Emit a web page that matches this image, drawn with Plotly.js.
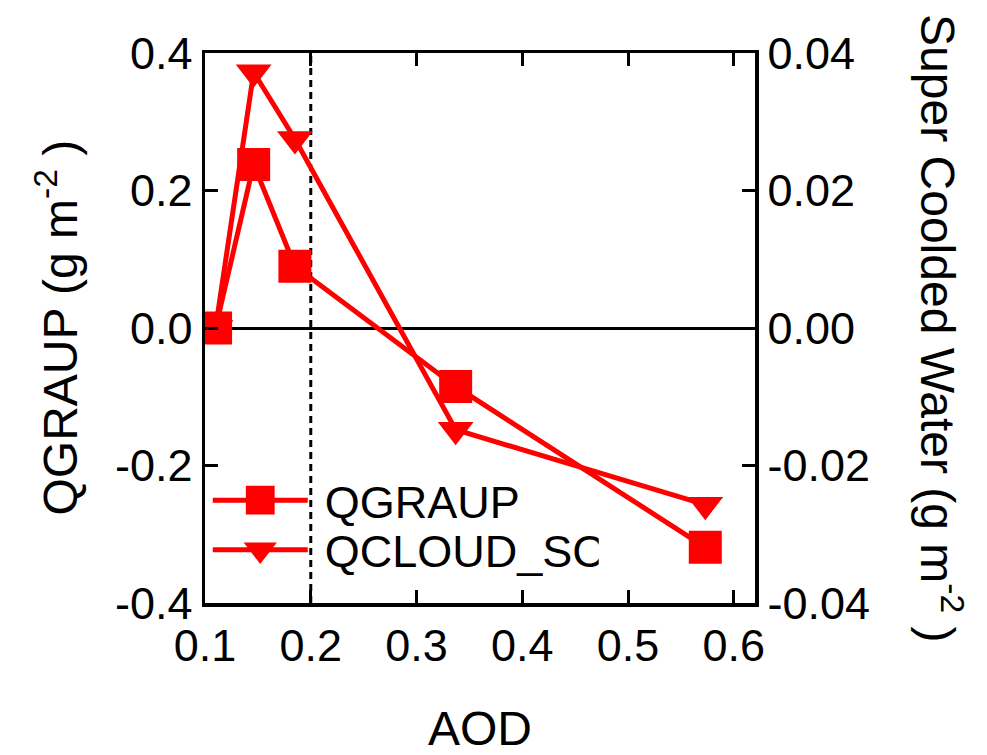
<!DOCTYPE html>
<html>
<head>
<meta charset="utf-8">
<script src="https://cdn.plot.ly/plotly-3.0.1.min.js"></script>
<style>
  html, body { margin: 0; padding: 0; background: #fff; }
  #chart { width: 987px; height: 755px; }
</style>
</head>
<body>
<div id="chart"></div>
<script>
// ---- data ----
const aod = [0.110, 0.146, 0.185, 0.337, 0.573];
const qgraup = [0.000, 0.238, 0.090, -0.085, -0.319];
const qcloudSC = [0.0000, 0.0372, 0.0275, -0.0148, -0.0257];
const seriesNames = ['QGRAUP', 'QCLOUD_SC'];
const xTicks = [0.1, 0.2, 0.3, 0.4, 0.5, 0.6];
const xTickText = ['0.1', '0.2', '0.3', '0.4', '0.5', '0.6'];
const yLeftTicks = [-0.4, -0.2, 0.0, 0.2, 0.4];
const yLeftTickText = ['-0.4', '-0.2', '0.0', '0.2', '0.4'];
const yRightTicks = [-0.04, -0.02, 0.00, 0.02, 0.04];
const yRightTickText = ['-0.04', '-0.02', '0.00', '0.02', '0.04'];
const aodThreshold = 0.2;
const xTitle = 'AOD';
const yLeftTitle = 'QGRAUP (g m<sup>-2</sup> )';
const yRightTitle = 'Super Coolded Water (g m<sup>-2</sup> )';

const FONT = '"Liberation Sans", Arial, sans-serif';
const RED = '#ff0000';

const traces = [
  {
    x: aod, y: qgraup, name: seriesNames[0], type: 'scatter', mode: 'lines+markers',
    line: {color: RED, width: 5},
    marker: {symbol: 'square', size: 33, color: RED},
    xaxis: 'x', yaxis: 'y'
  },
  {
    x: aod, y: qcloudSC, name: seriesNames[1], type: 'scatter', mode: 'lines+markers',
    line: {color: RED, width: 5},
    marker: {symbol: 'triangle-down', size: 31, color: RED},
    xaxis: 'x', yaxis: 'y2'
  }
];

const tickFont = {family: FONT, size: 45, color: '#000'};
const titleFont = {family: FONT, size: 48, color: '#000'};

const layout = {
  width: 987, height: 755,
  margin: {l: 205, r: 232, t: 53, b: 152},
  paper_bgcolor: '#fff', plot_bgcolor: '#fff',
  font: {family: FONT, color: '#000'},
  showlegend: true,
  legend: {
    x: 0.005, y: 0.252, xanchor: 'left', yanchor: 'top',
    bgcolor: 'rgba(0,0,0,0)',
    font: {family: FONT, size: 45, color: '#000'},
    itemwidth: 95,
    tracegroupgap: 0
  },
  xaxis: {
    range: [0.1, 0.62],
    tickvals: xTicks, ticktext: xTickText,
    ticks: 'inside', ticklen: 13, tickwidth: 3, tickcolor: '#000',
    showline: true, linecolor: '#000', linewidth: 3.5, mirror: 'ticks',
    showgrid: false, zeroline: false,
    tickfont: tickFont,
    title: {text: xTitle, font: titleFont, standoff: 46}
  },
  yaxis: {
    range: [-0.4, 0.4],
    tickvals: yLeftTicks, ticktext: yLeftTickText,
    ticks: 'inside', ticklen: 13, tickwidth: 3, tickcolor: '#000',
    showline: true, linecolor: '#000', linewidth: 3.5,
    showgrid: false,
    zeroline: true, zerolinecolor: '#000', zerolinewidth: 3,
    tickfont: tickFont
  },
  yaxis2: {
    range: [-0.04, 0.04],
    overlaying: 'y', side: 'right',
    tickvals: yRightTicks, ticktext: yRightTickText,
    ticks: 'inside', ticklen: 13, tickwidth: 3, tickcolor: '#000',
    showline: true, linecolor: '#000', linewidth: 3.5,
    showgrid: false, zeroline: false,
    tickfont: tickFont
  },
  shapes: [
    {type: 'line', xref: 'x', yref: 'paper', x0: aodThreshold, x1: aodThreshold, y0: 0, y1: 1,
     line: {color: '#000', width: 3, dash: '7px,5px'}, layer: 'below'}
  ],
  annotations: [
    {text: yLeftTitle, xref: 'paper', yref: 'paper', x: -0.27, y: 0.5,
     xanchor: 'center', yanchor: 'middle', textangle: -90, showarrow: false,
     font: titleFont},
    {text: yRightTitle, xref: 'paper', yref: 'paper', x: 1.338, y: 0.5,
     xanchor: 'center', yanchor: 'middle', textangle: 90, showarrow: false,
     font: titleFont}
  ]
};

Plotly.newPlot('chart', traces, layout, {displayModeBar: false, staticPlot: true}).then(function (gd) {
  // enlarge legend symbols and tune legend spacing to match the reference
  gd.querySelectorAll('.legend .legendpoints path.scatterpts').forEach(function (p) {
    const t = p.getAttribute('transform') || '';
    p.setAttribute('transform', t + ' scale(1.8)');
  });
  gd.querySelectorAll('.legend .legendtext').forEach(function (t) {
    const x = parseFloat(t.getAttribute('x') || '0');
    t.setAttribute('x', x + 12);
  });
  const items = gd.querySelectorAll('.legend .traces');
  if (items.length > 1) {
    const tr = items[1].getAttribute('transform') || '';
    const m = tr.match(/translate\(([-\d.]+)[ ,]+([-\d.]+)\)/);
    if (m) items[1].setAttribute('transform', 'translate(' + m[1] + ',' + (parseFloat(m[2]) - 12) + ')');
  }
});
</script>
</body>
</html>
